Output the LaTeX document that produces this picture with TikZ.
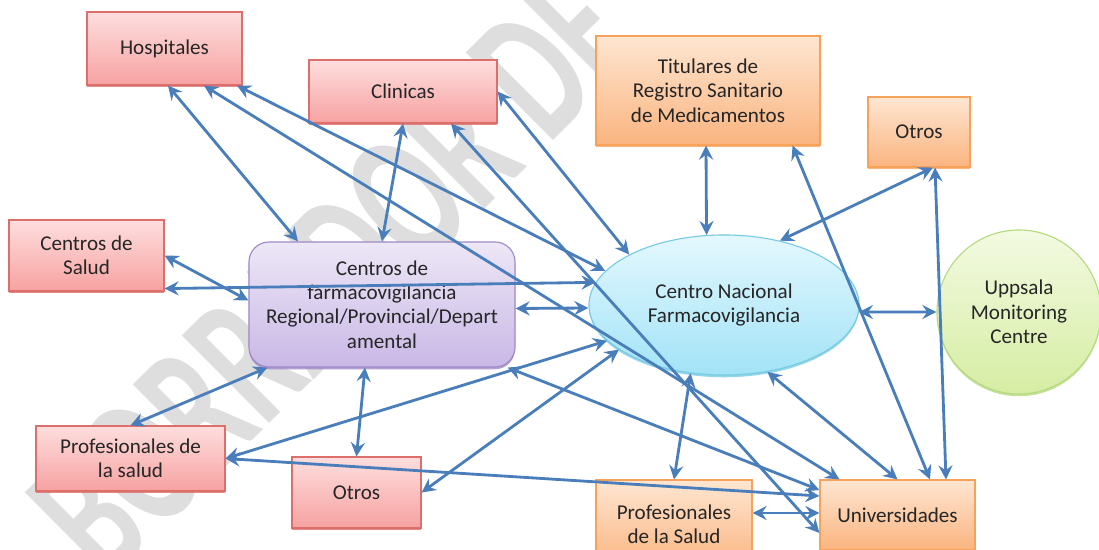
\documentclass[tikz,border=0pt]{standalone}
\usepackage{fontspec}
\setmainfont{Carlito}
\usepackage{xcolor}
\usepackage{tikz}
\usetikzlibrary{positioning,calc,arrows.meta,shapes.geometric,shadows}

\definecolor{rojoarriba}{HTML}{FEDEDE}
\definecolor{rojoabajo}{HTML}{F6A2A1}
\definecolor{rojoborde}{HTML}{DC6E6C}
\definecolor{naranjaarriba}{HTML}{FEE6D2}
\definecolor{naranjaabajo}{HTML}{FAB47F}
\definecolor{naranjaborde}{HTML}{F7A25A}
\definecolor{moradoarriba}{HTML}{EDE7F6}
\definecolor{moradoabajo}{HTML}{C9B8E6}
\definecolor{moradoborde}{HTML}{9F89C6}
\definecolor{celestearriba}{HTML}{E4F8FE}
\definecolor{celesteabajo}{HTML}{A2E3F7}
\definecolor{celesteborde}{HTML}{78CBE2}
\definecolor{verdearriba}{HTML}{F3FAE2}
\definecolor{verdeabajo}{HTML}{D6EDA3}
\definecolor{verdeborde}{HTML}{B5DA80}
\definecolor{azulenlace}{HTML}{4A7EBB}
\definecolor{texto}{HTML}{262626}

\begin{document}
\begin{tikzpicture}[
        x=0.025cm, y=-0.025cm,
        font=\fontsize{15}{17.3}\selectfont,
        % Estilo caja roja
        cajaroja/.style={
            rectangle,
            draw=rojoborde,
            top color=rojoarriba,
            bottom color=rojoabajo,
            thick,
            text=texto,
            align=center,
            inner sep=1pt,
            drop shadow={shadow xshift=0pt, shadow yshift=-1.6pt, fill=rojoborde, opacity=0.8}
        },
        % Estilo caja naranja
        cajanaranja/.style={
            rectangle,
            draw=naranjaborde,
            top color=naranjaarriba,
            bottom color=naranjaabajo,
            thick,
            text=texto,
            align=center,
            inner sep=1pt,
            drop shadow={shadow xshift=0pt, shadow yshift=-1.6pt, fill=naranjaborde, opacity=0.8}
        },
        % Estilo caja morada redondeada
        cajamorada/.style={
            rectangle,
            rounded corners=0.5cm,
            draw=moradoborde,
            top color=moradoarriba,
            bottom color=moradoabajo,
            thick,
            text=texto,
            align=center,
            inner sep=1pt,
            drop shadow={shadow xshift=0pt, shadow yshift=-1.6pt, fill=moradoborde, opacity=0.8}
        },
        % Estilo elipse central
        elipse/.style={
            ellipse,
            draw=celesteborde,
            top color=celestearriba,
            bottom color=celesteabajo,
            thick,
            text=texto,
            align=center,
            inner sep=0pt,
            drop shadow={shadow xshift=0pt, shadow yshift=-1.6pt, fill=celesteborde, opacity=0.8}
        },
        % Estilo circulo verde
        circulo/.style={
            circle,
            draw=verdeborde,
            top color=verdearriba,
            bottom color=verdeabajo,
            thick,
            text=texto,
            align=center,
            inner sep=0pt,
            drop shadow={shadow xshift=0pt, shadow yshift=-1.6pt, fill=verdeborde, opacity=0.8}
        },
        % Estilo marca de agua
        marca/.style={
            text=black!13,
            inner sep=0pt,
            font=\fontsize{87.5}{90}\selectfont\bfseries
        },
        % Estilo flecha doble
        flecha/.style={
            draw=azulenlace,
            line width=2pt,
            {Stealth[length=10pt,width=10pt,inset=3.5pt]}-{Stealth[length=10pt,width=10pt,inset=3.5pt]}
        }
    ]

        \useasboundingbox (0,0) rectangle (1099,550);
        \clip (0,0) rectangle (1099,550);

        % --- MARCA DE AGUA ---
        \node[marca, rotate=44.9, yscale=1.55] (borrador) at (333,273) {BORRADOR DE};

        % --- NODOS ---
        \node[cajaroja, minimum width=3.875cm, minimum height=1.825cm] (hosp) at (164.5,48.5) {Hospitales};
        \node[cajaroja, minimum width=4.7cm, minimum height=1.575cm] (clin) at (403,91.5) {Clinicas};
        \node[cajaroja, minimum width=3.875cm, minimum height=1.775cm] (csalud) at (86.5,255.5) {Centros de\\Salud};
        \node[cajaroja, minimum width=4.725cm, minimum height=1.625cm] (prof1) at (130.5,458.5) {Profesionales de\\la salud};
        \node[cajaroja, minimum width=3.225cm, minimum height=1.775cm] (otros2) at (356.5,492.5) {Otros};

        \node[cajanaranja, minimum width=5.6cm, minimum height=2.725cm] (tit) at (708,90.5) {Titulares de\\Registro Sanitario\\de Medicamentos};
        \node[cajanaranja, minimum width=2.55cm, minimum height=1.75cm] (otros1) at (919,132) {Otros};
        \node[cajanaranja, minimum width=3.9cm, minimum height=2.2cm] (prof2) at (674,524) {Profesionales\\de la Salud};
        \node[cajanaranja, minimum width=3.875cm, minimum height=1.75cm] (univ) at (897.5,515) {Universidades};

        \node[cajamorada, minimum width=6.65cm, minimum height=3.125cm] (cfv) at (382,304.5) {Centros de\\farmacovigilancia\\Regional/Provincial/Depart\\amental};
        \node[elipse, minimum width=6.75cm, minimum height=3.5cm] (cnf) at (724,305) {Centro Nacional\\Farmacovigilancia};
        \node[circulo, minimum size=4.1cm] (ums) at (1019,312) {Uppsala\\Monitoring\\Centre};

        % --- FLECHAS ---
        % Hospitales
        \draw[flecha] ($(hosp.south)+(3.5,0)$) -- ($(cfv.north)+(-84,0)$);
        \draw[flecha] ($(hosp.south)+(39.5,0)$) -- ($(univ.north west)+(20,0)$);
        \draw[flecha] ($(hosp.south)+(72.5,0)$) -- (cnf.164);

        % Clinicas
        \draw[flecha] (clin.south) -- (cfv.north);
        \draw[flecha] ($(clin.south)+(48,0)$) -- ($(univ.west)+(0,18)$);
        \draw[flecha] (clin.east) -- (cnf.152);

        % Titulares y Otros
        \draw[flecha] ($(tit.south)+(-2,0)$) -- (cnf.104);
        \draw[flecha] ($(tit.south east)+(-28,0)$) -- ($(univ.north)+(32.5,0)$);
        \draw[flecha] ($(otros1.south)+(14,0)$) -- (cnf.49);
        \draw[flecha] ($(otros1.south)+(16,0)$) -- ($(univ.north)+(48.5,0)$);

        % Centros de Salud
        \draw[flecha] (csalud.east) -- ($(cfv.west)+(0,-4)$);
        \draw[flecha] ($(csalud.south east)+(0,-3)$) -- (cnf.170);

        % Centros de farmacovigilancia
        \draw[flecha] ($(cfv.east)+(0,4)$) -- ($(cnf.west)+(0,3)$);
        \draw[flecha] ($(cfv.south west)+(19,0)$) -- (prof1.north);
        \draw[flecha] ($(cfv.south)+(-17,0)$) -- (otros2.north);
        \draw[flecha] ($(cfv.south east)+(-8,0)$) -- ($(univ.west)+(0,-25)$);

        % Profesionales de la salud y Otros
        \draw[flecha] (prof1.east) -- (cnf.197);
        \draw[flecha] (prof1.east) -- ($(univ.west)+(0,-19)$);
        \draw[flecha] (otros2.east) -- (cnf.203);

        % Centro Nacional
        \draw[flecha] (cnf.244) -- (prof2.north);
        \draw[flecha] (cnf.303) -- (univ.north);
        \draw[flecha] (cnf.-3) -- (ums.west);
        \draw[flecha] ($(prof2.east)+(0,-11)$) -- ($(univ.west)+(0,-2)$);

    \end{tikzpicture}
\end{document}
